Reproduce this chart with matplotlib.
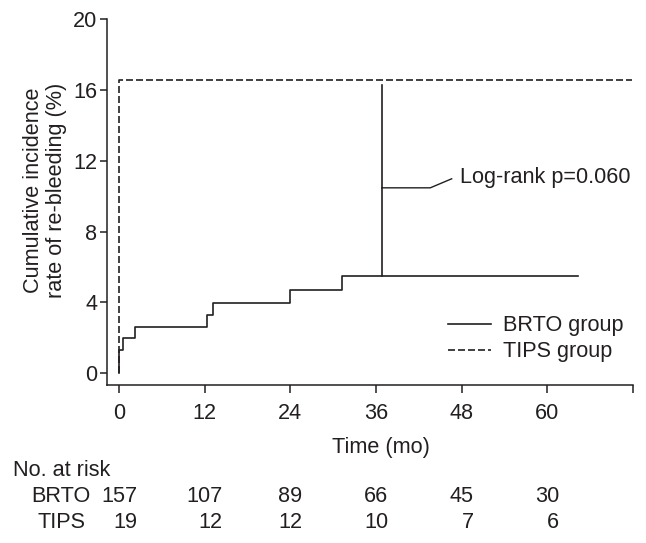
import matplotlib
matplotlib.use('Agg')
import matplotlib.pyplot as plt
from matplotlib.transforms import blended_transform_factory

plt.rcParams['font.family'] = ['Liberation Sans', 'DejaVu Sans']
plt.rcParams['font.size'] = 15.6

ink = '#231f20'

# Kaplan-Meier style cumulative incidence (%)
brto_t = [0, 0, 0.6, 2.2, 12.3, 13.1, 24.0, 31.3, 64.3]
brto_y = [0, 1.32, 1.98, 2.64, 3.31, 3.97, 4.70, 5.47, 5.47]
tips_t = [0, 0, 71.8]
tips_y = [0, 16.54, 16.54]

# log-rank annotation bracket
bracket_t = 36.8
bracket_lo = 5.47
bracket_hi = 16.3
leader_t = [36.8, 43.6, 46.6]
leader_y = [10.47, 10.47, 10.98]
logrank_text = 'Log-rank p=0.060'

x_ticks = [0, 12, 24, 36, 48, 60, 72]
x_ticklabels = ['0', '12', '24', '36', '48', '60', '']
y_ticks = [0, 4, 8, 12, 16, 20]

risk_times = [0, 12, 24, 36, 48, 60]
risk_brto = [157, 107, 89, 66, 45, 30]
risk_tips = [19, 12, 12, 10, 7, 6]

fig = plt.figure(figsize=(6.46, 5.43), dpi=100)
ax = fig.add_axes([107 / 646, 1 - 385 / 543, (633 - 107) / 646, (385 - 19) / 543])

ax.step(brto_t, brto_y, where='post', color=ink, lw=1.2, label='BRTO group')
ax.step(tips_t, tips_y, where='post', color=ink, lw=1.2, dashes=(4.2, 1.8),
        label='TIPS group')

ax.plot([bracket_t, bracket_t], [bracket_lo, bracket_hi], color=ink, lw=1.2)
ax.plot(leader_t, leader_y, color=ink, lw=1.0)
ax.text(47.8, 11.05, logrank_text, ha='left', va='center', color=ink)

ax.set_xlim(-1.68, 72)
ax.set_ylim(-0.66, 20)
ax.set_xticks(x_ticks)
ax.set_xticklabels(x_ticklabels)
ax.set_yticks(y_ticks)
ax.tick_params(axis='x', length=5.8, width=1.1, pad=7, colors=ink)
ax.tick_params(axis='y', length=5, width=1.1, pad=2, colors=ink)
for s in ['top', 'right']:
    ax.spines[s].set_visible(False)
for s in ['left', 'bottom']:
    ax.spines[s].set_linewidth(1.1)
    ax.spines[s].set_color(ink)

ax.legend(loc='upper left', bbox_to_anchor=(0.648, 0.19), frameon=False,
          borderpad=0, borderaxespad=0, handlelength=2.0, handletextpad=0.55,
          labelspacing=0.22, labelcolor=ink)

fig.text(45 / 646, 1 - 190 / 543, 'Cumulative incidence\nrate of re-bleeding (%)',
         rotation=90, ha='center', va='center', ma='center', color=ink,
         linespacing=1.1)
fig.text(381 / 646, 1 - 447 / 543, 'Time (mo)', ha='center', va='center', color=ink)

# number at risk table
fig.text(13 / 646, 1 - 470 / 543, 'No. at risk', ha='left', va='center', color=ink)
fig.text(61 / 646, 1 - 497 / 543, 'BRTO', ha='center', va='center', color=ink)
fig.text(62 / 646, 1 - 523 / 543, 'TIPS', ha='center', va='center', color=ink)
trans = blended_transform_factory(ax.transData, fig.transFigure)
for t, nb, nt in zip(risk_times, risk_brto, risk_tips):
    tb = ax.text(t, 1 - 497 / 543, str(nb), transform=trans, ha='center',
                 va='center', color=ink, clip_on=False)
    ax.annotate(str(nt), xy=(1, 0.5), xycoords=tb, xytext=(0, -26),
                textcoords='offset pixels', ha='right', va='center', color=ink,
                annotation_clip=False)

fig.savefig('out.png', dpi=100)
